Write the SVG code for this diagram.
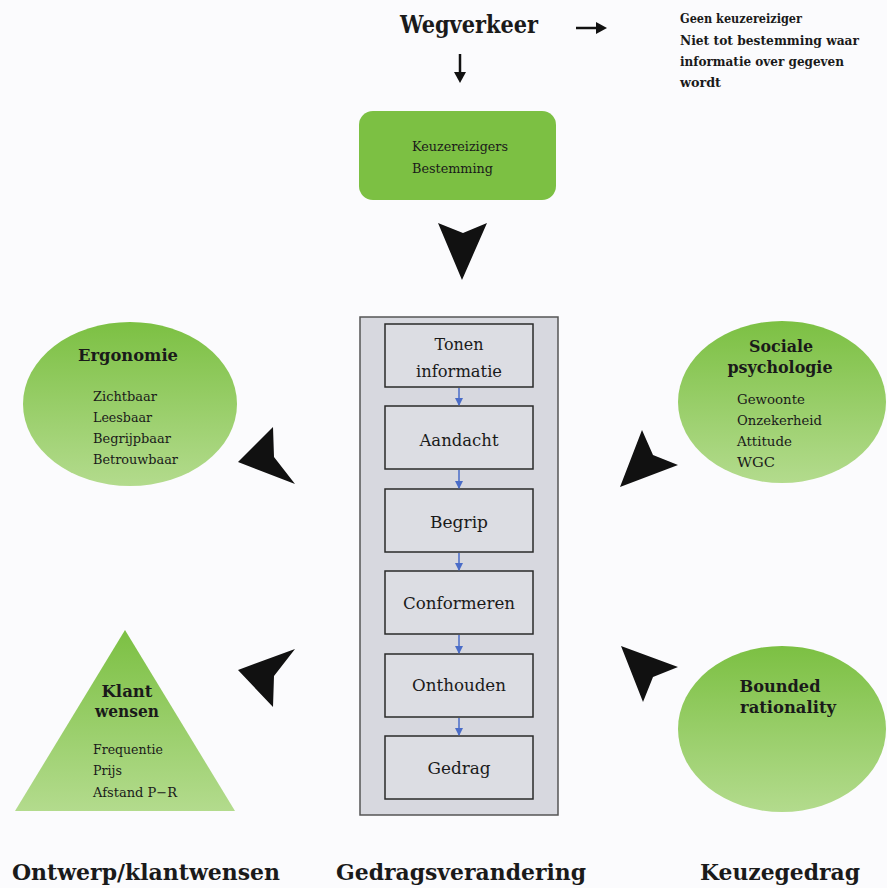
<svg xmlns="http://www.w3.org/2000/svg" width="887" height="888" viewBox="0 0 887 888">
<defs>
<linearGradient id="gg" x1="0" y1="0" x2="0" y2="1">
<stop offset="0" stop-color="#7cc043"/>
<stop offset="1" stop-color="#b3db8d"/>
</linearGradient>
<marker id="ba" viewBox="0 0 8 8" refX="7" refY="4" markerWidth="8" markerHeight="8" markerUnits="userSpaceOnUse" orient="auto">
<path d="M0,0 L8,4 L0,8 z" fill="#4a6cc8"/>
</marker>
<style>
text{font-family:'DejaVu Serif','Liberation Serif',serif;fill:#1a1a1a}
.b{font-weight:bold}
.t{font-size:13px}
.h{font-size:17px;font-weight:bold}
.box{font-size:17px}
.lab{font-size:22px;font-weight:bold}
.inner{fill:#dcdde3;stroke:#2a2a2a;stroke-width:1.5}
.chev{fill:#111}
.blue{stroke:#4a6cc8;stroke-width:1.5;fill:none}
.arr{stroke:#111;stroke-width:2.5;fill:none}
</style>
</defs>
<rect width="887" height="888" fill="#fbfbfd"/>

<g id="wegverkeer">
<text x="400" y="33" font-size="25" class="b" textLength="138" lengthAdjust="spacingAndGlyphs">Wegverkeer</text>
</g>
<g id="geen">
<text class="b" font-size="13" x="680" y="23" textLength="122" lengthAdjust="spacingAndGlyphs">Geen keuzereiziger</text>
<text class="b" font-size="13" x="680" y="45" textLength="179" lengthAdjust="spacingAndGlyphs">Niet tot bestemming waar</text>
<text class="b" font-size="13" x="680" y="66" textLength="164" lengthAdjust="spacingAndGlyphs">informatie over gegeven</text>
<text class="b" font-size="13" x="680" y="87" textLength="41" lengthAdjust="spacingAndGlyphs">wordt</text>
</g>
<g id="keuzereizigers">
<rect x="359" y="111" width="197" height="89" rx="14" fill="#7cc043"/>
<text class="t" x="412" y="151" textLength="96" lengthAdjust="spacingAndGlyphs">Keuzereizigers</text>
<text class="t" x="412" y="173" textLength="81" lengthAdjust="spacingAndGlyphs">Bestemming</text>
</g>

<g id="gedragsverandering">
<rect x="360" y="317" width="198" height="498" fill="#d7d8df" stroke="#555" stroke-width="1.5"/>
<g id="tonen">
<rect class="inner" x="385" y="324" width="148" height="63"/>
<text class="box" x="459" y="350" text-anchor="middle" textLength="49" lengthAdjust="spacingAndGlyphs">Tonen</text>
<text class="box" x="459" y="377" text-anchor="middle" textLength="86" lengthAdjust="spacingAndGlyphs">informatie</text>
</g>
<g id="aandacht">
<rect class="inner" x="385" y="406" width="148" height="63"/>
<text class="box" x="459" y="446" text-anchor="middle" textLength="79" lengthAdjust="spacingAndGlyphs">Aandacht</text>
</g>
<g id="begrip">
<rect class="inner" x="385" y="489" width="148" height="63"/>
<text class="box" x="459" y="528" text-anchor="middle" textLength="58" lengthAdjust="spacingAndGlyphs">Begrip</text>
</g>
<g id="conformeren">
<rect class="inner" x="385" y="571" width="148" height="63"/>
<text class="box" x="459" y="609" text-anchor="middle" textLength="112" lengthAdjust="spacingAndGlyphs">Conformeren</text>
</g>
<g id="onthouden">
<rect class="inner" x="385" y="654" width="148" height="63"/>
<text class="box" x="459" y="691" text-anchor="middle" textLength="94" lengthAdjust="spacingAndGlyphs">Onthouden</text>
</g>
<g id="gedrag">
<rect class="inner" x="385" y="736" width="148" height="63"/>
<text class="box" x="459" y="774" text-anchor="middle" textLength="63" lengthAdjust="spacingAndGlyphs">Gedrag</text>
</g>
</g>

<g id="ergonomie">
<ellipse cx="130" cy="404" rx="107" ry="82" fill="url(#gg)"/>
<text class="h" x="128" y="361" text-anchor="middle" textLength="100" lengthAdjust="spacingAndGlyphs">Ergonomie</text>
<text class="t" x="93" y="401" textLength="64" lengthAdjust="spacingAndGlyphs">Zichtbaar</text>
<text class="t" x="93" y="422" textLength="59" lengthAdjust="spacingAndGlyphs">Leesbaar</text>
<text class="t" x="93" y="443" textLength="78" lengthAdjust="spacingAndGlyphs">Begrijpbaar</text>
<text class="t" x="93" y="464" textLength="85" lengthAdjust="spacingAndGlyphs">Betrouwbaar</text>
</g>

<g id="sociale">
<ellipse cx="782" cy="402" rx="104" ry="81" fill="url(#gg)"/>
<text class="h" x="781" y="352" text-anchor="middle" textLength="64" lengthAdjust="spacingAndGlyphs">Sociale</text>
<text class="h" x="780" y="373" text-anchor="middle" textLength="105" lengthAdjust="spacingAndGlyphs">psychologie</text>
<text class="t" x="737" y="404" textLength="68" lengthAdjust="spacingAndGlyphs">Gewoonte</text>
<text class="t" x="737" y="425" textLength="85" lengthAdjust="spacingAndGlyphs">Onzekerheid</text>
<text class="t" x="737" y="446" textLength="55" lengthAdjust="spacingAndGlyphs">Attitude</text>
<text class="t" x="737" y="467" textLength="38" lengthAdjust="spacingAndGlyphs">WGC</text>
</g>

<g id="bounded">
<ellipse cx="782" cy="729" rx="104" ry="83" fill="url(#gg)"/>
<text class="h" x="780" y="692" text-anchor="middle" textLength="81" lengthAdjust="spacingAndGlyphs">Bounded</text>
<text class="h" x="788" y="713" text-anchor="middle" textLength="96" lengthAdjust="spacingAndGlyphs">rationality</text>
</g>

<g id="klant">
<polygon points="125,630 15,811 235,811" fill="url(#gg)"/>
<text class="h" x="127" y="697" text-anchor="middle" textLength="51" lengthAdjust="spacingAndGlyphs">Klant</text>
<text class="h" x="127" y="717" text-anchor="middle" textLength="64" lengthAdjust="spacingAndGlyphs">wensen</text>
<text class="t" x="93" y="754" textLength="70" lengthAdjust="spacingAndGlyphs">Frequentie</text>
<text class="t" x="93" y="775" textLength="29" lengthAdjust="spacingAndGlyphs">Prijs</text>
<text class="t" x="93" y="797" textLength="84" lengthAdjust="spacingAndGlyphs">Afstand P−R</text>
</g>

<g id="labels">
<text class="lab" x="12" y="880" textLength="268" lengthAdjust="spacingAndGlyphs">Ontwerp/klantwensen</text>
<text class="lab" x="336" y="880" textLength="250" lengthAdjust="spacingAndGlyphs">Gedragsverandering</text>
<text class="lab" x="700" y="880" textLength="160" lengthAdjust="spacingAndGlyphs">Keuzegedrag</text>
</g>

<g id="connectors">
<path class="arr" d="M576,28 H598"/>
<polygon points="596,22 607,28 596,34" fill="#111"/>
<path class="arr" d="M460,54 V74"/>
<polygon points="454,72 460,83 466,72" fill="#111"/>
<polygon class="chev" points="438,223 463,233 487,223 462,280"/>
<polygon class="chev" points="273,427 274,457 295,484 238,462"/>
<polygon class="chev" points="642,430 653,455 678,465 620,487"/>
<polygon class="chev" points="295,649 274,676 273,707 238,670"/>
<polygon class="chev" points="678,667 653,677 643,702 621,646"/>
<line class="blue" x1="459" y1="388" x2="459" y2="405" marker-end="url(#ba)"/>
<line class="blue" x1="459" y1="470" x2="459" y2="488" marker-end="url(#ba)"/>
<line class="blue" x1="459" y1="553" x2="459" y2="570" marker-end="url(#ba)"/>
<line class="blue" x1="459" y1="635" x2="459" y2="653" marker-end="url(#ba)"/>
<line class="blue" x1="459" y1="718" x2="459" y2="735" marker-end="url(#ba)"/>
</g>
</svg>
